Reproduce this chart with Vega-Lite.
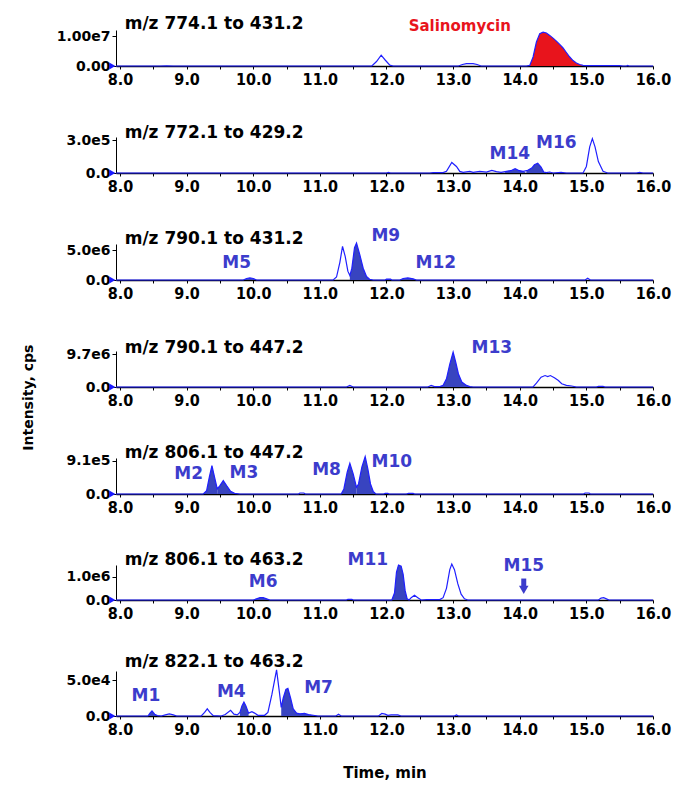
{
  "$schema": "https://vega.github.io/schema/vega-lite/v6.json",
  "background": "white",
  "padding": {"left": 22, "top": 15, "right": 3, "bottom": 1},
  "bounds": "flush",
  "spacing": 71,
  "title": {"text": "Intensity, cps", "orient": "left", "anchor": "middle", "frame": "bounds", "font": "DejaVu Sans", "fontSize": 14, "fontWeight": "bold", "color": "black", "offset": 20},
  "config": {
    "view": {"stroke": null},
    "axis": {"grid": false, "domainColor": "black", "tickColor": "black", "labelColor": "black", "titleColor": "black", "zindex": 1},
    "axisX": {"labelFont": "Liberation Sans Narrow, DejaVu Sans Condensed, sans-serif", "labelFontSize": 16, "labelFontWeight": "bold", "tickSize": 3, "domainWidth": 1.5, "labelPadding": 2, "labelOverlap": false, "labelFlush": false, "labelBound": false, "titleFont": "DejaVu Sans", "titleFontSize": 15, "titleFontWeight": "bold", "titlePadding": 28},
    "axisY": {"labelFont": "DejaVu Sans", "labelFontSize": 14, "labelFontWeight": "bold", "tickSize": 4, "domainWidth": 1, "labelPadding": 2, "labelOverlap": false, "labelBound": false, "labelFlush": false}
  },
  "datasets": {
    "trace": [
      {"p":1,"t":7.94,"y":0},{"p":1,"t":8.6,"y":0},{"p":1,"t":8.7,"y":5e4},{"p":1,"t":8.8,"y":0},{"p":1,"t":11.78,"y":0},{"p":1,"t":11.85,"y":1.5e6},{"p":1,"t":11.92,"y":3.6e6},{"p":1,"t":11.98,"y":2e6},{"p":1,"t":12.05,"y":3e5},{"p":1,"t":12.1,"y":0},{"p":1,"t":13.08,"y":0},{"p":1,"t":13.14,"y":5e5},{"p":1,"t":13.2,"y":8e5},{"p":1,"t":13.3,"y":8e5},{"p":1,"t":13.36,"y":5e5},{"p":1,"t":13.42,"y":0},{"p":1,"t":14.1,"y":0},{"p":1,"t":14.15,"y":2e5},{"p":1,"t":14.2,"y":3e6},{"p":1,"t":14.25,"y":8e6},{"p":1,"t":14.3,"y":1.08e7},{"p":1,"t":14.35,"y":1.13e7},{"p":1,"t":14.4,"y":1.1e7},{"p":1,"t":14.45,"y":1.02e7},{"p":1,"t":14.5,"y":9.3e6},{"p":1,"t":14.55,"y":8.3e6},{"p":1,"t":14.6,"y":7.2e6},{"p":1,"t":14.65,"y":6e6},{"p":1,"t":14.7,"y":4.5e6},{"p":1,"t":14.75,"y":3e6},{"p":1,"t":14.8,"y":1.8e6},{"p":1,"t":14.85,"y":1e6},{"p":1,"t":14.9,"y":5e5},{"p":1,"t":14.95,"y":2e5},{"p":1,"t":15.0,"y":1e5},{"p":1,"t":15.5,"y":1e5},{"p":1,"t":15.55,"y":0},{"p":1,"t":15.6,"y":0},{"p":1,"t":15.62,"y":2e5},{"p":1,"t":15.64,"y":0},{"p":1,"t":16,"y":0},
      {"p":2,"t":7.94,"y":0},{"p":2,"t":12.0,"y":0},{"p":2,"t":12.03,"y":6e3},{"p":2,"t":12.06,"y":0},{"p":2,"t":12.65,"y":0},{"p":2,"t":12.7,"y":3e3},{"p":2,"t":12.85,"y":3e3},{"p":2,"t":12.9,"y":1.5e4},{"p":2,"t":12.98,"y":9.6e4},{"p":2,"t":13.05,"y":6e4},{"p":2,"t":13.1,"y":1.5e4},{"p":2,"t":13.15,"y":6e3},{"p":2,"t":13.25,"y":1.5e4},{"p":2,"t":13.3,"y":6e3},{"p":2,"t":13.4,"y":1.5e4},{"p":2,"t":13.5,"y":9e3},{"p":2,"t":13.58,"y":2.4e4},{"p":2,"t":13.65,"y":1.2e4},{"p":2,"t":13.72,"y":6e3},{"p":2,"t":13.8,"y":1.5e4},{"p":2,"t":13.88,"y":2.4e4},{"p":2,"t":13.93,"y":3.9e4},{"p":2,"t":13.98,"y":2.4e4},{"p":2,"t":14.05,"y":1.5e4},{"p":2,"t":14.12,"y":2.4e4},{"p":2,"t":14.18,"y":4.5e4},{"p":2,"t":14.22,"y":7.5e4},{"p":2,"t":14.27,"y":9e4},{"p":2,"t":14.32,"y":5.4e4},{"p":2,"t":14.36,"y":9e3},{"p":2,"t":14.4,"y":3e3},{"p":2,"t":14.45,"y":9e3},{"p":2,"t":14.5,"y":0},{"p":2,"t":14.62,"y":6e3},{"p":2,"t":14.7,"y":0},{"p":2,"t":14.95,"y":0},{"p":2,"t":15.0,"y":6e4},{"p":2,"t":15.05,"y":2.4e5},{"p":2,"t":15.09,"y":3.15e5},{"p":2,"t":15.13,"y":2.4e5},{"p":2,"t":15.18,"y":1.05e5},{"p":2,"t":15.25,"y":1.5e4},{"p":2,"t":15.32,"y":0},{"p":2,"t":15.75,"y":0},{"p":2,"t":15.8,"y":6e3},{"p":2,"t":15.85,"y":0},{"p":2,"t":16,"y":0},
      {"p":3,"t":7.94,"y":0},{"p":3,"t":9.85,"y":0},{"p":3,"t":9.9,"y":2.5e5},{"p":3,"t":9.95,"y":3.5e5},{"p":3,"t":10.0,"y":2.5e5},{"p":3,"t":10.05,"y":0},{"p":3,"t":11.2,"y":0},{"p":3,"t":11.25,"y":5e5},{"p":3,"t":11.3,"y":3e6},{"p":3,"t":11.34,"y":5.7e6},{"p":3,"t":11.38,"y":4e6},{"p":3,"t":11.42,"y":1.5e6},{"p":3,"t":11.45,"y":7.5e5},{"p":3,"t":11.48,"y":2e6},{"p":3,"t":11.52,"y":5.5e6},{"p":3,"t":11.55,"y":6.25e6},{"p":3,"t":11.6,"y":4.25e6},{"p":3,"t":11.65,"y":2e6},{"p":3,"t":11.7,"y":6e5},{"p":3,"t":11.75,"y":1e5},{"p":3,"t":11.8,"y":0},{"p":3,"t":11.98,"y":0},{"p":3,"t":12.0,"y":1.5e5},{"p":3,"t":12.06,"y":1.5e5},{"p":3,"t":12.08,"y":0},{"p":3,"t":12.2,"y":0},{"p":3,"t":12.25,"y":2.5e5},{"p":3,"t":12.32,"y":3.5e5},{"p":3,"t":12.4,"y":2e5},{"p":3,"t":12.45,"y":0},{"p":3,"t":14.98,"y":0},{"p":3,"t":15.02,"y":3e5},{"p":3,"t":15.06,"y":0},{"p":3,"t":16,"y":0},
      {"p":4,"t":7.94,"y":0},{"p":4,"t":11.4,"y":0},{"p":4,"t":11.45,"y":4.85e5},{"p":4,"t":11.5,"y":0},{"p":4,"t":12.62,"y":0},{"p":4,"t":12.67,"y":4.85e5},{"p":4,"t":12.72,"y":9.7e4},{"p":4,"t":12.8,"y":9.7e4},{"p":4,"t":12.85,"y":4.85e5},{"p":4,"t":12.9,"y":2.43e6},{"p":4,"t":12.95,"y":6.79e6},{"p":4,"t":13.0,"y":1.038e7},{"p":4,"t":13.04,"y":7.28e6},{"p":4,"t":13.08,"y":3.88e6},{"p":4,"t":13.13,"y":1.46e6},{"p":4,"t":13.2,"y":4.85e5},{"p":4,"t":13.25,"y":9.7e4},{"p":4,"t":13.3,"y":0},{"p":4,"t":14.2,"y":0},{"p":4,"t":14.25,"y":1.16e6},{"p":4,"t":14.32,"y":2.91e6},{"p":4,"t":14.38,"y":3.4e6},{"p":4,"t":14.42,"y":3.1e6},{"p":4,"t":14.46,"y":3.4e6},{"p":4,"t":14.52,"y":2.72e6},{"p":4,"t":14.58,"y":1.94e6},{"p":4,"t":14.63,"y":9.7e5},{"p":4,"t":14.7,"y":4.85e5},{"p":4,"t":14.78,"y":2.9e5},{"p":4,"t":14.85,"y":0},{"p":4,"t":15.15,"y":0},{"p":4,"t":15.18,"y":1.94e5},{"p":4,"t":15.25,"y":1.94e5},{"p":4,"t":15.28,"y":0},{"p":4,"t":16,"y":0},
      {"p":5,"t":7.94,"y":0},{"p":5,"t":9.25,"y":0},{"p":5,"t":9.3,"y":9.1e4},{"p":5,"t":9.34,"y":4.55e5},{"p":5,"t":9.38,"y":7.74e5},{"p":5,"t":9.42,"y":4.55e5},{"p":5,"t":9.46,"y":1.37e5},{"p":5,"t":9.5,"y":2.28e5},{"p":5,"t":9.55,"y":3.64e5},{"p":5,"t":9.6,"y":2.28e5},{"p":5,"t":9.66,"y":7.3e4},{"p":5,"t":9.72,"y":1.8e4},{"p":5,"t":9.8,"y":0},{"p":5,"t":10.68,"y":0},{"p":5,"t":10.7,"y":2.7e4},{"p":5,"t":10.76,"y":2.7e4},{"p":5,"t":10.78,"y":0},{"p":5,"t":11.32,"y":0},{"p":5,"t":11.36,"y":1.37e5},{"p":5,"t":11.41,"y":5.92e5},{"p":5,"t":11.45,"y":8.37e5},{"p":5,"t":11.5,"y":5.46e5},{"p":5,"t":11.55,"y":1.82e5},{"p":5,"t":11.58,"y":2.73e5},{"p":5,"t":11.63,"y":7.28e5},{"p":5,"t":11.68,"y":1.02e6},{"p":5,"t":11.72,"y":6.83e5},{"p":5,"t":11.76,"y":2.73e5},{"p":5,"t":11.8,"y":7.3e4},{"p":5,"t":11.84,"y":0},{"p":5,"t":11.96,"y":0},{"p":5,"t":11.98,"y":1.8e4},{"p":5,"t":12.02,"y":1.8e4},{"p":5,"t":12.04,"y":0},{"p":5,"t":12.3,"y":0},{"p":5,"t":12.33,"y":1.8e4},{"p":5,"t":12.4,"y":1.8e4},{"p":5,"t":12.42,"y":0},{"p":5,"t":14.96,"y":0},{"p":5,"t":14.98,"y":2.7e4},{"p":5,"t":15.04,"y":2.7e4},{"p":5,"t":15.06,"y":0},{"p":5,"t":16,"y":0},
      {"p":6,"t":7.94,"y":0},{"p":6,"t":10.0,"y":0},{"p":6,"t":10.05,"y":5e4},{"p":6,"t":10.1,"y":1e5},{"p":6,"t":10.15,"y":1e5},{"p":6,"t":10.2,"y":5e4},{"p":6,"t":10.25,"y":0},{"p":6,"t":11.4,"y":0},{"p":6,"t":11.42,"y":3e4},{"p":6,"t":11.48,"y":3e4},{"p":6,"t":11.5,"y":0},{"p":6,"t":12.08,"y":0},{"p":6,"t":12.12,"y":3e5},{"p":6,"t":12.15,"y":1.2e6},{"p":6,"t":12.18,"y":1.5e6},{"p":6,"t":12.22,"y":1.45e6},{"p":6,"t":12.25,"y":1.1e6},{"p":6,"t":12.28,"y":4e5},{"p":6,"t":12.31,"y":5e4},{"p":6,"t":12.34,"y":0},{"p":6,"t":12.37,"y":1e5},{"p":6,"t":12.42,"y":2e5},{"p":6,"t":12.47,"y":1e5},{"p":6,"t":12.52,"y":0},{"p":6,"t":12.6,"y":2e4},{"p":6,"t":12.8,"y":2e4},{"p":6,"t":12.85,"y":1e5},{"p":6,"t":12.9,"y":5e5},{"p":6,"t":12.95,"y":1.3e6},{"p":6,"t":12.98,"y":1.54e6},{"p":6,"t":13.02,"y":1.3e6},{"p":6,"t":13.07,"y":7e5},{"p":6,"t":13.12,"y":2.5e5},{"p":6,"t":13.17,"y":5e4},{"p":6,"t":13.22,"y":0},{"p":6,"t":15.18,"y":0},{"p":6,"t":15.22,"y":8e4},{"p":6,"t":15.26,"y":1e5},{"p":6,"t":15.3,"y":5e4},{"p":6,"t":15.34,"y":0},{"p":6,"t":16,"y":0},
      {"p":7,"t":7.94,"y":0},{"p":7,"t":8.42,"y":0},{"p":7,"t":8.45,"y":4e3},{"p":7,"t":8.48,"y":7e3},{"p":7,"t":8.52,"y":2.5e3},{"p":7,"t":8.56,"y":500},{"p":7,"t":8.62,"y":0},{"p":7,"t":8.68,"y":1.5e3},{"p":7,"t":8.74,"y":3e3},{"p":7,"t":8.8,"y":1.5e3},{"p":7,"t":8.85,"y":0},{"p":7,"t":9.22,"y":0},{"p":7,"t":9.27,"y":5e3},{"p":7,"t":9.31,"y":1e4},{"p":7,"t":9.35,"y":5e3},{"p":7,"t":9.4,"y":500},{"p":7,"t":9.52,"y":0},{"p":7,"t":9.58,"y":2e3},{"p":7,"t":9.66,"y":8e3},{"p":7,"t":9.71,"y":2.5e3},{"p":7,"t":9.76,"y":1.5e3},{"p":7,"t":9.8,"y":5e3},{"p":7,"t":9.83,"y":1.4e4},{"p":7,"t":9.86,"y":1.95e4},{"p":7,"t":9.89,"y":1.4e4},{"p":7,"t":9.93,"y":4e3},{"p":7,"t":9.98,"y":6e3},{"p":7,"t":10.02,"y":4e3},{"p":7,"t":10.07,"y":1e3},{"p":7,"t":10.17,"y":1e3},{"p":7,"t":10.22,"y":5e3},{"p":7,"t":10.28,"y":3e4},{"p":7,"t":10.35,"y":6.4e4},{"p":7,"t":10.39,"y":3.5e4},{"p":7,"t":10.42,"y":1.2e4},{"p":7,"t":10.45,"y":2.5e4},{"p":7,"t":10.49,"y":3.7e4},{"p":7,"t":10.52,"y":3.85e4},{"p":7,"t":10.56,"y":2.5e4},{"p":7,"t":10.6,"y":1e4},{"p":7,"t":10.65,"y":4e3},{"p":7,"t":10.7,"y":3e3},{"p":7,"t":10.77,"y":3.5e3},{"p":7,"t":10.83,"y":2e3},{"p":7,"t":10.9,"y":1e3},{"p":7,"t":10.97,"y":0},{"p":7,"t":11.24,"y":0},{"p":7,"t":11.28,"y":2.5e3},{"p":7,"t":11.32,"y":0},{"p":7,"t":11.88,"y":0},{"p":7,"t":11.93,"y":3.5e3},{"p":7,"t":11.98,"y":2.5e3},{"p":7,"t":12.02,"y":1e3},{"p":7,"t":12.07,"y":1.5e3},{"p":7,"t":12.17,"y":1.5e3},{"p":7,"t":12.22,"y":0},{"p":7,"t":13.02,"y":0},{"p":7,"t":13.05,"y":1.5e3},{"p":7,"t":13.08,"y":0},{"p":7,"t":16,"y":0}
    ],
    "fill": [
      {"p":1,"k":"Salinomycin","t":14.1,"y":0},{"p":1,"k":"Salinomycin","t":14.15,"y":2e5},{"p":1,"k":"Salinomycin","t":14.2,"y":3e6},{"p":1,"k":"Salinomycin","t":14.25,"y":8e6},{"p":1,"k":"Salinomycin","t":14.3,"y":1.08e7},{"p":1,"k":"Salinomycin","t":14.35,"y":1.13e7},{"p":1,"k":"Salinomycin","t":14.4,"y":1.1e7},{"p":1,"k":"Salinomycin","t":14.45,"y":1.02e7},{"p":1,"k":"Salinomycin","t":14.5,"y":9.3e6},{"p":1,"k":"Salinomycin","t":14.55,"y":8.3e6},{"p":1,"k":"Salinomycin","t":14.6,"y":7.2e6},{"p":1,"k":"Salinomycin","t":14.65,"y":6e6},{"p":1,"k":"Salinomycin","t":14.7,"y":4.5e6},{"p":1,"k":"Salinomycin","t":14.75,"y":3e6},{"p":1,"k":"Salinomycin","t":14.8,"y":1.8e6},{"p":1,"k":"Salinomycin","t":14.85,"y":1e6},{"p":1,"k":"Salinomycin","t":14.9,"y":5e5},{"p":1,"k":"Salinomycin","t":14.95,"y":2e5},{"p":1,"k":"Salinomycin","t":15.0,"y":1e5},{"p":1,"k":"Salinomycin","t":15.02,"y":0},
      {"p":2,"k":"M14","t":13.78,"y":1e4},{"p":2,"k":"M14","t":13.8,"y":1.5e4},{"p":2,"k":"M14","t":13.88,"y":2.4e4},{"p":2,"k":"M14","t":13.93,"y":3.9e4},{"p":2,"k":"M14","t":13.98,"y":2.4e4},{"p":2,"k":"M14","t":14.05,"y":1.5e4},{"p":2,"k":"M14","t":14.08,"y":1e4},
      {"p":2,"k":"M16","t":14.1,"y":2e4},{"p":2,"k":"M16","t":14.12,"y":2.4e4},{"p":2,"k":"M16","t":14.18,"y":4.5e4},{"p":2,"k":"M16","t":14.22,"y":7.5e4},{"p":2,"k":"M16","t":14.27,"y":9e4},{"p":2,"k":"M16","t":14.32,"y":5.4e4},{"p":2,"k":"M16","t":14.36,"y":9e3},{"p":2,"k":"M16","t":14.4,"y":3e3},
      {"p":3,"k":"M5","t":9.85,"y":0},{"p":3,"k":"M5","t":9.9,"y":2.5e5},{"p":3,"k":"M5","t":9.95,"y":3.5e5},{"p":3,"k":"M5","t":10.0,"y":2.5e5},{"p":3,"k":"M5","t":10.05,"y":0},
      {"p":3,"k":"M9","t":11.45,"y":7.5e5},{"p":3,"k":"M9","t":11.48,"y":2e6},{"p":3,"k":"M9","t":11.52,"y":5.5e6},{"p":3,"k":"M9","t":11.55,"y":6.25e6},{"p":3,"k":"M9","t":11.6,"y":4.25e6},{"p":3,"k":"M9","t":11.65,"y":2e6},{"p":3,"k":"M9","t":11.7,"y":6e5},{"p":3,"k":"M9","t":11.75,"y":1e5},{"p":3,"k":"M9","t":11.8,"y":0},
      {"p":3,"k":"s1","t":11.98,"y":0},{"p":3,"k":"s1","t":12.0,"y":1.5e5},{"p":3,"k":"s1","t":12.06,"y":1.5e5},{"p":3,"k":"s1","t":12.08,"y":0},
      {"p":3,"k":"M12","t":12.2,"y":0},{"p":3,"k":"M12","t":12.25,"y":2.5e5},{"p":3,"k":"M12","t":12.32,"y":3.5e5},{"p":3,"k":"M12","t":12.4,"y":2e5},{"p":3,"k":"M12","t":12.45,"y":0},
      {"p":4,"k":"M13","t":12.8,"y":9.7e4},{"p":4,"k":"M13","t":12.85,"y":4.85e5},{"p":4,"k":"M13","t":12.9,"y":2.43e6},{"p":4,"k":"M13","t":12.95,"y":6.79e6},{"p":4,"k":"M13","t":13.0,"y":1.038e7},{"p":4,"k":"M13","t":13.04,"y":7.28e6},{"p":4,"k":"M13","t":13.08,"y":3.88e6},{"p":4,"k":"M13","t":13.13,"y":1.46e6},{"p":4,"k":"M13","t":13.2,"y":4.85e5},{"p":4,"k":"M13","t":13.25,"y":9.7e4},{"p":4,"k":"M13","t":13.3,"y":0},
      {"p":5,"k":"M2","t":9.25,"y":0},{"p":5,"k":"M2","t":9.3,"y":9.1e4},{"p":5,"k":"M2","t":9.34,"y":4.55e5},{"p":5,"k":"M2","t":9.38,"y":7.74e5},{"p":5,"k":"M2","t":9.42,"y":4.55e5},{"p":5,"k":"M2","t":9.46,"y":1.37e5},
      {"p":5,"k":"M3","t":9.46,"y":1.37e5},{"p":5,"k":"M3","t":9.5,"y":2.28e5},{"p":5,"k":"M3","t":9.55,"y":3.64e5},{"p":5,"k":"M3","t":9.6,"y":2.28e5},{"p":5,"k":"M3","t":9.66,"y":7.3e4},{"p":5,"k":"M3","t":9.72,"y":1.8e4},{"p":5,"k":"M3","t":9.8,"y":0},
      {"p":5,"k":"M8","t":11.32,"y":0},{"p":5,"k":"M8","t":11.36,"y":1.37e5},{"p":5,"k":"M8","t":11.41,"y":5.92e5},{"p":5,"k":"M8","t":11.45,"y":8.37e5},{"p":5,"k":"M8","t":11.5,"y":5.46e5},{"p":5,"k":"M8","t":11.55,"y":1.82e5},
      {"p":5,"k":"M10","t":11.55,"y":1.82e5},{"p":5,"k":"M10","t":11.58,"y":2.73e5},{"p":5,"k":"M10","t":11.63,"y":7.28e5},{"p":5,"k":"M10","t":11.68,"y":1.02e6},{"p":5,"k":"M10","t":11.72,"y":6.83e5},{"p":5,"k":"M10","t":11.76,"y":2.73e5},{"p":5,"k":"M10","t":11.8,"y":7.3e4},{"p":5,"k":"M10","t":11.84,"y":0},
      {"p":5,"k":"s1","t":11.96,"y":0},{"p":5,"k":"s1","t":11.98,"y":1.8e4},{"p":5,"k":"s1","t":12.02,"y":1.8e4},{"p":5,"k":"s1","t":12.04,"y":0},
      {"p":5,"k":"s2","t":12.3,"y":0},{"p":5,"k":"s2","t":12.33,"y":1.8e4},{"p":5,"k":"s2","t":12.4,"y":1.8e4},{"p":5,"k":"s2","t":12.42,"y":0},
      {"p":6,"k":"M6","t":10.0,"y":0},{"p":6,"k":"M6","t":10.05,"y":5e4},{"p":6,"k":"M6","t":10.1,"y":1e5},{"p":6,"k":"M6","t":10.15,"y":1e5},{"p":6,"k":"M6","t":10.2,"y":5e4},{"p":6,"k":"M6","t":10.25,"y":0},
      {"p":6,"k":"a","t":11.4,"y":0},{"p":6,"k":"a","t":11.42,"y":3e4},{"p":6,"k":"a","t":11.48,"y":3e4},{"p":6,"k":"a","t":11.5,"y":0},
      {"p":6,"k":"M11","t":12.08,"y":0},{"p":6,"k":"M11","t":12.12,"y":3e5},{"p":6,"k":"M11","t":12.15,"y":1.2e6},{"p":6,"k":"M11","t":12.18,"y":1.5e6},{"p":6,"k":"M11","t":12.22,"y":1.45e6},{"p":6,"k":"M11","t":12.25,"y":1.1e6},{"p":6,"k":"M11","t":12.28,"y":4e5},{"p":6,"k":"M11","t":12.31,"y":5e4},{"p":6,"k":"M11","t":12.34,"y":0},
      {"p":6,"k":"b","t":12.6,"y":0},{"p":6,"k":"b","t":12.62,"y":2e4},{"p":6,"k":"b","t":12.8,"y":2e4},{"p":6,"k":"b","t":12.83,"y":0},
      {"p":7,"k":"M1","t":8.42,"y":0},{"p":7,"k":"M1","t":8.45,"y":4e3},{"p":7,"k":"M1","t":8.48,"y":7e3},{"p":7,"k":"M1","t":8.52,"y":2.5e3},{"p":7,"k":"M1","t":8.56,"y":500},{"p":7,"k":"M1","t":8.62,"y":0},
      {"p":7,"k":"M4","t":9.8,"y":5e3},{"p":7,"k":"M4","t":9.83,"y":1.4e4},{"p":7,"k":"M4","t":9.86,"y":1.95e4},{"p":7,"k":"M4","t":9.89,"y":1.4e4},{"p":7,"k":"M4","t":9.93,"y":4e3},
      {"p":7,"k":"M7","t":10.42,"y":1.2e4},{"p":7,"k":"M7","t":10.45,"y":2.5e4},{"p":7,"k":"M7","t":10.49,"y":3.7e4},{"p":7,"k":"M7","t":10.52,"y":3.85e4},{"p":7,"k":"M7","t":10.56,"y":2.5e4},{"p":7,"k":"M7","t":10.6,"y":1e4},{"p":7,"k":"M7","t":10.65,"y":4e3},{"p":7,"k":"M7","t":10.7,"y":3e3},{"p":7,"k":"M7","t":10.77,"y":3.5e3},{"p":7,"k":"M7","t":10.83,"y":2e3},{"p":7,"k":"M7","t":10.9,"y":1e3},{"p":7,"k":"M7","t":10.97,"y":0}
    ],
    "lab": [
      {"p":1,"t":13.1,"y":1.35e7,"s":"Salinomycin"},
      {"p":2,"t":13.85,"y":1.7e5,"s":"M14"},{"p":2,"t":14.55,"y":2.75e5,"s":"M16"},
      {"p":3,"t":9.75,"y":2.8e6,"s":"M5"},{"p":3,"t":11.99,"y":7.4e6,"s":"M9"},{"p":3,"t":12.74,"y":2.95e6,"s":"M12"},
      {"p":4,"t":13.58,"y":1.154e7,"s":"M13"},
      {"p":5,"t":9.03,"y":5.4e5,"s":"M2"},{"p":5,"t":9.86,"y":5.6e5,"s":"M3"},{"p":5,"t":11.1,"y":6.6e5,"s":"M8"},{"p":5,"t":12.08,"y":8.65e5,"s":"M10"},
      {"p":6,"t":10.15,"y":7.9e5,"s":"M6"},{"p":6,"t":11.72,"y":1.71e6,"s":"M11"},{"p":6,"t":14.06,"y":1.46e6,"s":"M15"},
      {"p":7,"t":8.39,"y":2.75e4,"s":"M1"},{"p":7,"t":9.67,"y":3.4e4,"s":"M4"},{"p":7,"t":10.98,"y":3.9e4,"s":"M7"}
    ],
    "ttl": [
      {"p":1,"t":8.07,"y":1.22e7,"s":"m/z 774.1 to 431.2"},
      {"p":2,"t":8.07,"y":3.2e5,"s":"m/z 772.1 to 429.2"},
      {"p":3,"t":8.07,"y":6.1e6,"s":"m/z 790.1 to 431.2"},
      {"p":4,"t":8.07,"y":1.01e7,"s":"m/z 790.1 to 447.2"},
      {"p":5,"t":8.07,"y":9.8e5,"s":"m/z 806.1 to 447.2"},
      {"p":6,"t":8.07,"y":1.5e6,"s":"m/z 806.1 to 463.2"},
      {"p":7,"t":8.07,"y":6.8e4,"s":"m/z 822.1 to 463.2"}
    ],
    "tri": [
      {"p":1,"t":7.885,"y":0},{"p":2,"t":7.885,"y":0},{"p":3,"t":7.885,"y":0},{"p":4,"t":7.885,"y":0},{"p":5,"t":7.885,"y":0},{"p":6,"t":7.885,"y":0},{"p":7,"t":7.885,"y":0}
    ],
    "arrow": [
      {"p":6,"t":14.06,"y":9.2e5,"y2":5.6e5,"yh":4.3e5}
    ]
  },
  "vconcat": [
    {
      "width": 537, "height": 36,
      "encoding": {
        "x": {"field": "t", "type": "quantitative", "scale": {"domain": [7.94, 16], "nice": false, "zero": false}, "axis": {"values": [8,8.5,9,9.5,10,10.5,11,11.5,12,12.5,13,13.5,14,14.5,15,15.5,16], "labelExpr": "datum.value % 1 == 0 ? format(datum.value, '.1f') : ''", "title": null}},
        "y": {"field": "y", "type": "quantitative", "stack": null, "scale": {"domain": [0, 1.2e7], "nice": false}, "axis": {"values": [0, 1e7], "labelExpr": "datum.value == 0 ? '0.00' : '1.00e7'", "title": null}}
      },
      "layer": [
        {"data": {"name": "fill"}, "transform": [{"filter": "datum.p == 1"}], "mark": {"type": "area", "color": "#e8141c"}, "encoding": {"detail": {"field": "k"}}},
        {"data": {"name": "trace"}, "transform": [{"filter": "datum.p == 1"}], "mark": {"type": "line", "color": "#1f1fff", "strokeWidth": 1.2}},
        {"data": {"name": "tri"}, "transform": [{"filter": "datum.p == 1"}], "mark": {"type": "point", "shape": "triangle-right", "filled": true, "size": 50, "color": "#1a1aff", "opacity": 1}},
        {"data": {"name": "ttl"}, "transform": [{"filter": "datum.p == 1"}], "mark": {"type": "text", "align": "left", "baseline": "alphabetic", "font": "DejaVu Sans", "fontWeight": "bold", "fontSize": 17, "color": "black"}, "encoding": {"text": {"field": "s"}}},
        {"data": {"name": "lab"}, "transform": [{"filter": "datum.p == 1"}], "mark": {"type": "text", "font": "DejaVu Sans", "fontWeight": "bold", "fontSize": 15, "color": "#e8141c"}, "encoding": {"text": {"field": "s"}}}
      ]
    },
    {
      "width": 537, "height": 36,
      "encoding": {
        "x": {"field": "t", "type": "quantitative", "scale": {"domain": [7.94, 16], "nice": false, "zero": false}, "axis": {"values": [8,8.5,9,9.5,10,10.5,11,11.5,12,12.5,13,13.5,14,14.5,15,15.5,16], "labelExpr": "datum.value % 1 == 0 ? format(datum.value, '.1f') : ''", "title": null}},
        "y": {"field": "y", "type": "quantitative", "stack": null, "scale": {"domain": [0, 3.3e5], "nice": false}, "axis": {"values": [0, 3e5], "labelExpr": "datum.value == 0 ? '0.0' : '3.0e5'", "title": null}}
      },
      "layer": [
        {"data": {"name": "fill"}, "transform": [{"filter": "datum.p == 2"}], "mark": {"type": "area", "color": "#3844c0"}, "encoding": {"detail": {"field": "k"}}},
        {"data": {"name": "trace"}, "transform": [{"filter": "datum.p == 2"}], "mark": {"type": "line", "color": "#1f1fff", "strokeWidth": 1.2}},
        {"data": {"name": "tri"}, "transform": [{"filter": "datum.p == 2"}], "mark": {"type": "point", "shape": "triangle-right", "filled": true, "size": 50, "color": "#1a1aff", "opacity": 1}},
        {"data": {"name": "ttl"}, "transform": [{"filter": "datum.p == 2"}], "mark": {"type": "text", "align": "left", "baseline": "alphabetic", "font": "DejaVu Sans", "fontWeight": "bold", "fontSize": 17, "color": "black"}, "encoding": {"text": {"field": "s"}}},
        {"data": {"name": "lab"}, "transform": [{"filter": "datum.p == 2"}], "mark": {"type": "text", "font": "DejaVu Sans", "fontWeight": "bold", "fontSize": 17, "color": "#3c3ccc"}, "encoding": {"text": {"field": "s"}}}
      ]
    },
    {
      "width": 537, "height": 36,
      "encoding": {
        "x": {"field": "t", "type": "quantitative", "scale": {"domain": [7.94, 16], "nice": false, "zero": false}, "axis": {"values": [8,8.5,9,9.5,10,10.5,11,11.5,12,12.5,13,13.5,14,14.5,15,15.5,16], "labelExpr": "datum.value % 1 == 0 ? format(datum.value, '.1f') : ''", "title": null}},
        "y": {"field": "y", "type": "quantitative", "stack": null, "scale": {"domain": [0, 6.1e6], "nice": false}, "axis": {"values": [0, 5e6], "labelExpr": "datum.value == 0 ? '0.0' : '5.0e6'", "title": null}}
      },
      "layer": [
        {"data": {"name": "fill"}, "transform": [{"filter": "datum.p == 3"}], "mark": {"type": "area", "color": "#3844c0"}, "encoding": {"detail": {"field": "k"}}},
        {"data": {"name": "trace"}, "transform": [{"filter": "datum.p == 3"}], "mark": {"type": "line", "color": "#1f1fff", "strokeWidth": 1.2}},
        {"data": {"name": "tri"}, "transform": [{"filter": "datum.p == 3"}], "mark": {"type": "point", "shape": "triangle-right", "filled": true, "size": 50, "color": "#1a1aff", "opacity": 1}},
        {"data": {"name": "ttl"}, "transform": [{"filter": "datum.p == 3"}], "mark": {"type": "text", "align": "left", "baseline": "alphabetic", "font": "DejaVu Sans", "fontWeight": "bold", "fontSize": 17, "color": "black"}, "encoding": {"text": {"field": "s"}}},
        {"data": {"name": "lab"}, "transform": [{"filter": "datum.p == 3"}], "mark": {"type": "text", "font": "DejaVu Sans", "fontWeight": "bold", "fontSize": 17, "color": "#3c3ccc"}, "encoding": {"text": {"field": "s"}}}
      ]
    },
    {
      "width": 537, "height": 36,
      "encoding": {
        "x": {"field": "t", "type": "quantitative", "scale": {"domain": [7.94, 16], "nice": false, "zero": false}, "axis": {"values": [8,8.5,9,9.5,10,10.5,11,11.5,12,12.5,13,13.5,14,14.5,15,15.5,16], "labelExpr": "datum.value % 1 == 0 ? format(datum.value, '.1f') : ''", "title": null}},
        "y": {"field": "y", "type": "quantitative", "stack": null, "scale": {"domain": [0, 1.07e7], "nice": false}, "axis": {"values": [0, 9.7e6], "labelExpr": "datum.value == 0 ? '0.0' : '9.7e6'", "title": null}}
      },
      "layer": [
        {"data": {"name": "fill"}, "transform": [{"filter": "datum.p == 4"}], "mark": {"type": "area", "color": "#3844c0"}, "encoding": {"detail": {"field": "k"}}},
        {"data": {"name": "trace"}, "transform": [{"filter": "datum.p == 4"}], "mark": {"type": "line", "color": "#1f1fff", "strokeWidth": 1.2}},
        {"data": {"name": "tri"}, "transform": [{"filter": "datum.p == 4"}], "mark": {"type": "point", "shape": "triangle-right", "filled": true, "size": 50, "color": "#1a1aff", "opacity": 1}},
        {"data": {"name": "ttl"}, "transform": [{"filter": "datum.p == 4"}], "mark": {"type": "text", "align": "left", "baseline": "alphabetic", "font": "DejaVu Sans", "fontWeight": "bold", "fontSize": 17, "color": "black"}, "encoding": {"text": {"field": "s"}}},
        {"data": {"name": "lab"}, "transform": [{"filter": "datum.p == 4"}], "mark": {"type": "text", "font": "DejaVu Sans", "fontWeight": "bold", "fontSize": 17, "color": "#3c3ccc"}, "encoding": {"text": {"field": "s"}}}
      ]
    },
    {
      "width": 537, "height": 36,
      "encoding": {
        "x": {"field": "t", "type": "quantitative", "scale": {"domain": [7.94, 16], "nice": false, "zero": false}, "axis": {"values": [8,8.5,9,9.5,10,10.5,11,11.5,12,12.5,13,13.5,14,14.5,15,15.5,16], "labelExpr": "datum.value % 1 == 0 ? format(datum.value, '.1f') : ''", "title": null}},
        "y": {"field": "y", "type": "quantitative", "stack": null, "scale": {"domain": [0, 9.8e5], "nice": false}, "axis": {"values": [0, 9.1e5], "labelExpr": "datum.value == 0 ? '0.0' : '9.1e5'", "title": null}}
      },
      "layer": [
        {"data": {"name": "fill"}, "transform": [{"filter": "datum.p == 5"}], "mark": {"type": "area", "color": "#3844c0"}, "encoding": {"detail": {"field": "k"}}},
        {"data": {"name": "trace"}, "transform": [{"filter": "datum.p == 5"}], "mark": {"type": "line", "color": "#1f1fff", "strokeWidth": 1.2}},
        {"data": {"name": "tri"}, "transform": [{"filter": "datum.p == 5"}], "mark": {"type": "point", "shape": "triangle-right", "filled": true, "size": 50, "color": "#1a1aff", "opacity": 1}},
        {"data": {"name": "ttl"}, "transform": [{"filter": "datum.p == 5"}], "mark": {"type": "text", "align": "left", "baseline": "alphabetic", "font": "DejaVu Sans", "fontWeight": "bold", "fontSize": 17, "color": "black"}, "encoding": {"text": {"field": "s"}}},
        {"data": {"name": "lab"}, "transform": [{"filter": "datum.p == 5"}], "mark": {"type": "text", "font": "DejaVu Sans", "fontWeight": "bold", "fontSize": 17, "color": "#3c3ccc"}, "encoding": {"text": {"field": "s"}}}
      ]
    },
    {
      "width": 537, "height": 35,
      "encoding": {
        "x": {"field": "t", "type": "quantitative", "scale": {"domain": [7.94, 16], "nice": false, "zero": false}, "axis": {"values": [8,8.5,9,9.5,10,10.5,11,11.5,12,12.5,13,13.5,14,14.5,15,15.5,16], "labelExpr": "datum.value % 1 == 0 ? format(datum.value, '.1f') : ''", "title": null}},
        "y": {"field": "y", "type": "quantitative", "stack": null, "scale": {"domain": [0, 1.5e6], "nice": false}, "axis": {"values": [0, 1e6], "labelExpr": "datum.value == 0 ? '0.0' : '1.0e6'", "title": null}}
      },
      "layer": [
        {"data": {"name": "fill"}, "transform": [{"filter": "datum.p == 6"}], "mark": {"type": "area", "color": "#3844c0"}, "encoding": {"detail": {"field": "k"}}},
        {"data": {"name": "trace"}, "transform": [{"filter": "datum.p == 6"}], "mark": {"type": "line", "color": "#1f1fff", "strokeWidth": 1.2}},
        {"data": {"name": "tri"}, "transform": [{"filter": "datum.p == 6"}], "mark": {"type": "point", "shape": "triangle-right", "filled": true, "size": 50, "color": "#1a1aff", "opacity": 1}},
        {"data": {"name": "arrow"}, "mark": {"type": "rule", "color": "#3c3ccc", "strokeWidth": 5}, "encoding": {"y2": {"field": "y2"}}},
        {"data": {"name": "arrow"}, "mark": {"type": "point", "shape": "triangle-down", "filled": true, "size": 90, "color": "#3c3ccc", "opacity": 1}, "encoding": {"y": {"field": "yh", "type": "quantitative"}}},
        {"data": {"name": "ttl"}, "transform": [{"filter": "datum.p == 6"}], "mark": {"type": "text", "align": "left", "baseline": "alphabetic", "font": "DejaVu Sans", "fontWeight": "bold", "fontSize": 17, "color": "black"}, "encoding": {"text": {"field": "s"}}},
        {"data": {"name": "lab"}, "transform": [{"filter": "datum.p == 6"}], "mark": {"type": "text", "font": "DejaVu Sans", "fontWeight": "bold", "fontSize": 17, "color": "#3c3ccc"}, "encoding": {"text": {"field": "s"}}}
      ]
    },
    {
      "width": 537, "height": 45,
      "encoding": {
        "x": {"field": "t", "type": "quantitative", "scale": {"domain": [7.94, 16], "nice": false, "zero": false}, "axis": {"values": [8,8.5,9,9.5,10,10.5,11,11.5,12,12.5,13,13.5,14,14.5,15,15.5,16], "labelExpr": "datum.value % 1 == 0 ? format(datum.value, '.1f') : ''", "title": "Time, min"}},
        "y": {"field": "y", "type": "quantitative", "stack": null, "scale": {"domain": [0, 6.25e4], "nice": false}, "axis": {"values": [0, 5e4], "labelExpr": "datum.value == 0 ? '0.0' : '5.0e4'", "title": null}}
      },
      "layer": [
        {"data": {"name": "fill"}, "transform": [{"filter": "datum.p == 7"}], "mark": {"type": "area", "color": "#3844c0"}, "encoding": {"detail": {"field": "k"}}},
        {"data": {"name": "trace"}, "transform": [{"filter": "datum.p == 7"}], "mark": {"type": "line", "color": "#1f1fff", "strokeWidth": 1.2}},
        {"data": {"name": "tri"}, "transform": [{"filter": "datum.p == 7"}], "mark": {"type": "point", "shape": "triangle-right", "filled": true, "size": 50, "color": "#1a1aff", "opacity": 1}},
        {"data": {"name": "ttl"}, "transform": [{"filter": "datum.p == 7"}], "mark": {"type": "text", "align": "left", "baseline": "alphabetic", "font": "DejaVu Sans", "fontWeight": "bold", "fontSize": 17, "color": "black"}, "encoding": {"text": {"field": "s"}}},
        {"data": {"name": "lab"}, "transform": [{"filter": "datum.p == 7"}], "mark": {"type": "text", "font": "DejaVu Sans", "fontWeight": "bold", "fontSize": 17, "color": "#3c3ccc"}, "encoding": {"text": {"field": "s"}}}
      ]
    }
  ]
}
